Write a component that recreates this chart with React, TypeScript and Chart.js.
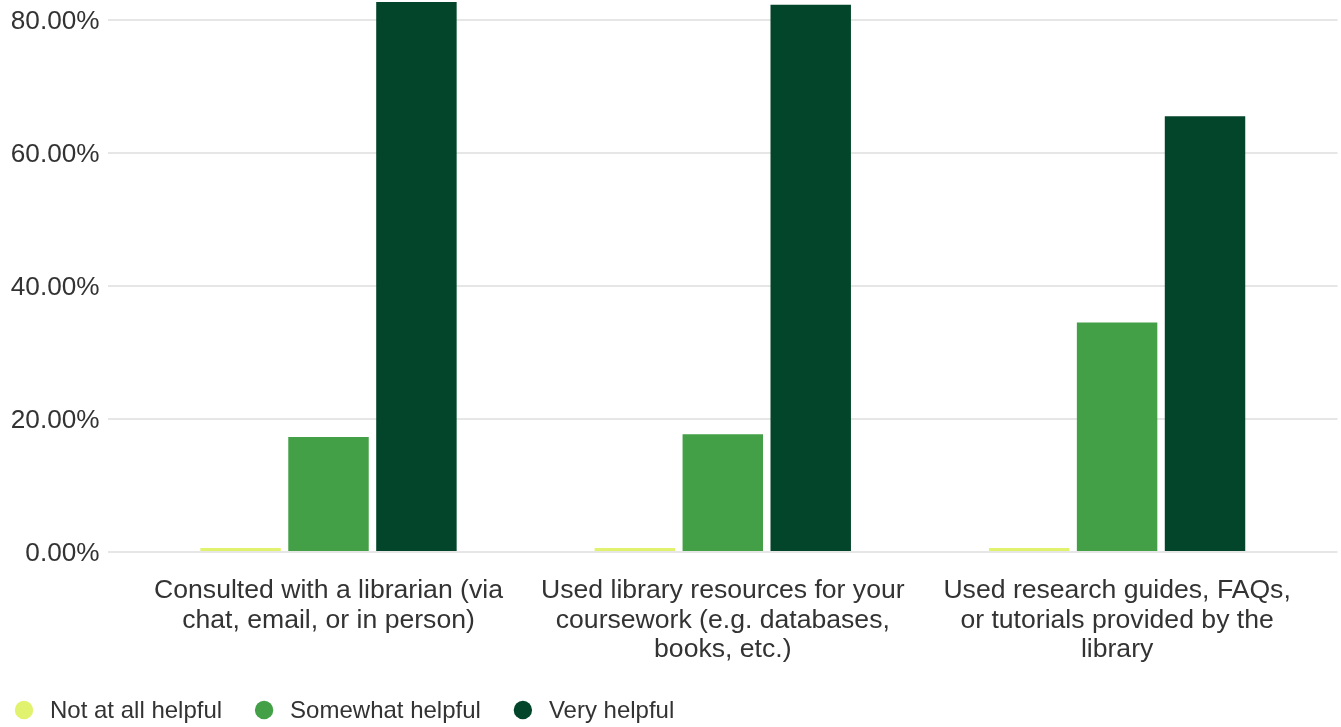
import React, { useEffect, useRef } from "react";
import { Chart, registerables } from "chart.js";

Chart.register(...registerables);

const categories: string[][] = [
  ["Consulted with a librarian (via", "chat, email, or in person)"],
  ["Used library resources for your", "coursework (e.g. databases,", "books, etc.)"],
  ["Used research guides, FAQs,", "or tutorials provided by the", "library"],
];
const seriesNames = ["Not at all helpful", "Somewhat helpful", "Very helpful"];
const notAtAllHelpful = [0.6, 0.6, 0.6];
const somewhatHelpful = [17.3, 17.7, 34.5];
const veryHelpful = [82.7, 82.3, 65.5];
const yTickValues = [0, 20, 40, 60, 80];
const seriesColors = ["#e1f36e", "#43a047", "#03452a"];

const FONT = "'Liberation Sans', Arial, sans-serif";
const TEXT = "#333333";

const legendPlugin = {
  id: "bottomLegend",
  afterDraw(chart: any) {
    const ctx = chart.ctx as CanvasRenderingContext2D;
    ctx.save();
    ctx.font = `24px ${FONT}`;
    ctx.textBaseline = "middle";
    ctx.textAlign = "left";
    let x = 15;
    const y = chart.height - 17;
    chart.data.datasets.forEach((ds: any) => {
      ctx.fillStyle = ds.backgroundColor;
      ctx.beginPath();
      ctx.arc(x + 9, y, 9.2, 0, Math.PI * 2);
      ctx.fill();
      ctx.fillStyle = TEXT;
      ctx.fillText(ds.label, x + 35, y + 1);
      x += 35 + ctx.measureText(ds.label).width + 33;
    });
    ctx.restore();
  },
};

export default function App() {
  const ref = useRef<HTMLCanvasElement | null>(null);

  useEffect(() => {
    if (!ref.current) return;
    const toPoints = (arr: number[]) => arr.map((v, i) => ({ x: i, y: v }));
    const seriesData = [notAtAllHelpful, somewhatHelpful, veryHelpful];
    const chart = new Chart(ref.current, {
      type: "bar",
      data: {
        datasets: seriesNames.map((name, i) => ({
          label: name,
          data: toPoints(seriesData[i]),
          backgroundColor: seriesColors[i],
          borderWidth: 0,
          categoryPercentage: 0.669,
          barPercentage: 0.915,
        })),
      },
      options: {
        responsive: false,
        animation: false,
        devicePixelRatio: 1,
        layout: { padding: { top: 24, left: 2.8, right: 3.5, bottom: 38 } },
        plugins: {
          legend: { display: false },
          tooltip: { enabled: false },
          title: { display: false },
        },
        scales: {
          x: {
            type: "linear",
            offset: false,
            min: -0.5602,
            max: 2.559,
            grid: { display: false, drawTicks: false, offset: false },
            border: { display: false },
            afterBuildTicks: (scale: any) => {
              scale.ticks = categories.map((_, i) => ({ value: i }));
            },
            ticks: {
              padding: 24.25,
              maxRotation: 0,
              autoSkip: false,
              color: TEXT,
              font: { family: FONT, size: 26.6, lineHeight: 1.11 },
              callback: (value: any) => categories[Math.round(Number(value))] ?? "",
            },
          },
          y: {
            min: 0,
            max: 83,
            grid: { color: "#e6e6e6", lineWidth: 2, drawTicks: false },
            border: { display: false },
            afterBuildTicks: (scale: any) => {
              scale.ticks = yTickValues.map((v) => ({ value: v }));
            },
            ticks: {
              padding: 8,
              labelOffset: 1.5,
              color: TEXT,
              font: { family: FONT, size: 26.2 },
              callback: (value: any) => Number(value).toFixed(2) + "%",
            },
          },
        },
      },
      plugins: [legendPlugin],
    } as any);
    return () => chart.destroy();
  }, []);

  return (
    <div
      style={{
        position: "fixed",
        left: 0,
        top: 0,
        width: 1341,
        height: 727,
        overflow: "hidden",
        background: "#ffffff",
      }}
    >
      <canvas
        ref={ref}
        width={1341}
        height={751}
        style={{ position: "absolute", left: 0, top: -24, width: 1341, height: 751 }}
      />
    </div>
  );
}
